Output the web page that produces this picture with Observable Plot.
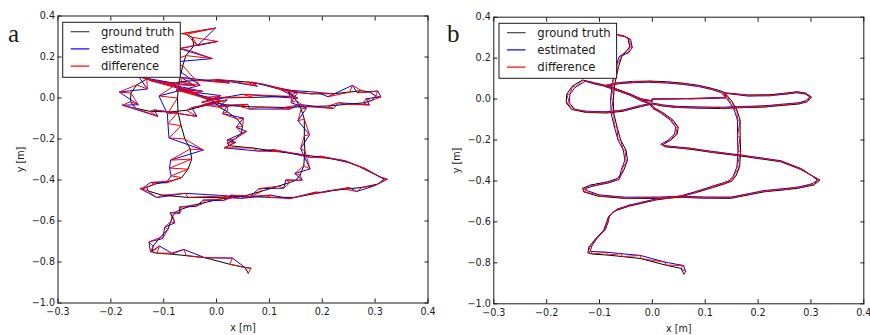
<!DOCTYPE html>
<html><head><meta charset="utf-8">
<script src="https://cdn.jsdelivr.net/npm/d3@7"></script>
<script src="https://cdn.jsdelivr.net/npm/@observablehq/plot@0.6"></script>
<style>
body{margin:0;background:#fff;}
#wrap{position:relative;width:870px;height:335px;overflow:hidden;background:#fff;}
.panel{position:absolute;top:0;width:435px;height:335px;}
#overlay{position:absolute;left:0;top:0;pointer-events:none;}
</style></head>
<body><div id="wrap"><div class="panel" id="pa" style="left:0"></div><div class="panel" id="pb" style="left:435px"></div></div>
<script>
// ground-truth trajectory (metres)
const gtX = [0.060,0.054,0.025,-0.022,-0.057,-0.085,-0.113,-0.122,-0.120,-0.107,
-0.092,-0.087,-0.083,-0.076,-0.066,-0.044,-0.022,0.006,0.032,0.054,
0.086,0.117,0.139,0.150,0.158,0.165,0.167,0.166,0.166,0.160,
0.151,0.142,0.134,0.113,0.088,0.057,0.025,-0.006,-0.038,-0.066,
-0.088,-0.066,-0.041,-0.022,-0.003,0.000,0.069,0.139,0.136,0.180,
0.221,0.252,0.274,0.290,0.301,0.293,0.277,0.246,0.211,0.170,
0.129,0.082,0.044,0.019,0.000,-0.022,-0.057,-0.088,-0.126,-0.153,
-0.163,-0.162,-0.151,-0.132,-0.110,-0.088,-0.066,-0.041,-0.022,-0.006,
0.006,0.021,0.039,0.049,0.047,0.035,0.021,0.024,0.069,0.117,
0.167,0.205,0.243,0.281,0.303,0.317,0.305,0.275,0.243,0.211,
0.180,0.148,0.095,0.054,0.010,-0.054,-0.103,-0.130,-0.132,-0.117,
-0.085,-0.066,-0.054,-0.047,-0.050,-0.060,-0.067,-0.073,-0.074,-0.071,
-0.064,-0.058,-0.050,-0.043,-0.046,-0.057,-0.066];
const gtY = [-0.855,-0.827,-0.811,-0.779,-0.769,-0.762,-0.757,-0.751,-0.722,-0.681,
-0.640,-0.604,-0.575,-0.555,-0.542,-0.523,-0.510,-0.493,-0.484,-0.477,
-0.454,-0.430,-0.412,-0.401,-0.376,-0.331,-0.257,-0.184,-0.103,-0.054,
-0.013,0.015,0.036,0.052,0.067,0.078,0.085,0.088,0.086,0.080,
0.067,0.047,0.023,0.002,-0.007,0.000,0.003,0.008,0.031,0.020,
0.021,0.029,0.036,0.029,0.010,-0.013,-0.024,-0.031,-0.039,-0.042,
-0.046,-0.044,-0.041,-0.034,-0.024,-0.037,-0.060,-0.068,-0.065,-0.050,
-0.018,0.024,0.064,0.093,0.080,0.067,0.047,0.023,-0.002,-0.018,
-0.046,-0.068,-0.103,-0.137,-0.171,-0.200,-0.221,-0.233,-0.244,-0.262,
-0.278,-0.292,-0.306,-0.344,-0.376,-0.396,-0.420,-0.436,-0.445,-0.453,
-0.469,-0.485,-0.484,-0.480,-0.485,-0.485,-0.474,-0.453,-0.436,-0.420,
-0.404,-0.388,-0.347,-0.298,-0.249,-0.200,-0.135,-0.070,0.000,0.077,
0.158,0.207,0.231,0.256,0.296,0.311,0.314];
// estimated minus ground truth, panel a (millimetres)
const estOffAX = [5,0,5,0,-5,0,5,-3,-8,5,
-6,8,-5,6,-4,5,-3,6,-5,8,
-6,10,-8,12,-10,12,-8,10,-12,10,
-10,12,-10,15,-20,20,-25,30,-30,25,
-40,30,-35,30,-25,20,-20,15,-15,10,
-10,5,-8,15,10,-10,12,-15,10,-12,
10,-20,15,-15,20,-25,20,-30,15,-25,
15,-22,20,-15,35,-30,40,-35,30,-20,
15,-10,12,-12,10,-15,15,-10,10,-10,
10,-8,8,-10,5,6,-8,-10,8,-10,
8,-10,8,-8,10,-5,-10,-15,-10,-8,
-10,-20,-35,-40,25,-30,-25,-20,-35,40,
-30,50,-20,45,10,55,25];
const estOffAY = [25,0,30,0,30,5,35,0,20,-5,
10,-5,15,-8,10,-6,12,-8,10,-8,
12,-10,12,0,8,-15,10,5,-8,5,
-10,15,10,-15,10,-20,5,-15,15,-20,
20,-25,15,10,-15,5,15,-10,10,8,
-15,33,-10,5,-5,10,-10,8,-12,10,
-8,-10,10,-10,15,-10,-30,10,-25,15,
-15,5,-20,10,-10,15,-15,20,-10,-15,
10,-8,5,-5,8,-5,5,-10,-15,10,
-12,8,-10,8,-8,0,-10,-20,8,-8,
10,-6,10,-10,8,20,-12,12,-8,8,
-10,8,5,-5,-5,5,10,-8,10,-15,
15,-15,10,20,-40,30,10];
// estimated minus ground truth, panel b (millimetres)
const estOffBX = [3,5,0,0,-2,-2,-3,5,5,3,
3,3,2,2,0,0,0,0,0,-2,
-3,-3,-5,-5,-5,-5,-5,-5,-5,-5,
-5,-5,-3,0,0,0,0,0,0,0,
0,3,3,3,3,0,0,0,3,0,
0,0,0,0,-3,-3,0,0,0,0,
0,0,0,0,0,0,0,0,0,6,
6,6,5,5,0,0,0,0,0,0,
-5,-5,-5,-5,-5,-5,-5,0,0,0,
0,0,0,0,-3,-5,-3,0,0,0,
0,0,0,0,0,0,3,6,6,5,
3,3,-5,-5,-5,-5,-5,-5,-5,-5,
-5,-5,5,5,5,5,5];
const estOffBY = [12,14,14,15,14,14,13,9,3,3,
2,0,3,3,5,5,5,5,3,3,
3,5,3,2,0,0,0,0,0,0,
-2,-3,-5,-6,-6,-6,-6,-6,-6,-6,
-7,-6,-6,-6,-5,0,-2,-3,-3,-5,
-5,-5,-5,-5,0,5,6,6,6,6,
6,6,6,6,5,6,6,6,6,0,
0,0,-6,-6,-6,-6,-6,-6,-6,-5,
0,0,0,0,0,0,0,5,5,5,
5,5,5,5,5,0,6,6,6,6,
6,6,6,6,6,6,6,6,0,-5,
-5,-5,0,0,0,0,0,0,0,0,
0,0,-5,-5,-5,-5,-5];

const xTicks = [-0.3,-0.2,-0.1,0.0,0.1,0.2,0.3,0.4];
const yTicks = [-1.0,-0.8,-0.6,-0.4,-0.2,0.0,0.2,0.4];
const legendLabels = ["ground truth","estimated","difference"];
const seriesColors = ["#000000","#0000ff","#ff0000"];
const panelTags = ["a","b"];

function build(dx, dy) {
  const gt = gtX.map((x, i) => ({x, y: gtY[i]}));
  const est = gtX.map((x, i) => ({x: x + dx[i] / 1000, y: gtY[i] + dy[i] / 1000}));
  const diff = [];
  gt.forEach((g, i) => { diff.push(g); diff.push(est[i]); });
  return {gt, est, diff};
}

function chart(d, m) {
  const fmt = d3.format(".1f");
  return Plot.plot({
    width: 435, height: 335,
    marginLeft: m.l, marginRight: m.r, marginTop: m.t, marginBottom: m.b,
    x: {domain: [-0.3, 0.4]},
    y: {domain: [-1.0, 0.4]},
    style: {fontFamily: "DejaVu Sans", fontSize: "9.6px", color: "#1a1a1a", background: "transparent"},
    marks: [
      Plot.line(d.gt, {x: "x", y: "y", stroke: seriesColors[0], strokeWidth: 1}),
      Plot.line(d.est, {x: "x", y: "y", stroke: seriesColors[1], strokeWidth: 1}),
      Plot.line(d.diff, {x: "x", y: "y", stroke: seriesColors[2], strokeWidth: 1}),
      Plot.axisX({ticks: xTicks, anchor: "bottom", tickSize: -4, tickFormat: () => "", label: null}),
      Plot.axisX({ticks: xTicks, anchor: "top", tickSize: -4, tickFormat: () => "", label: null}),
      Plot.axisY({ticks: yTicks, anchor: "left", tickSize: -4, tickFormat: () => "", label: null}),
      Plot.axisY({ticks: yTicks, anchor: "right", tickSize: -4, tickFormat: () => "", label: null}),
      Plot.axisX({ticks: xTicks, anchor: "bottom", tickSize: 0, tickPadding: 5.5, tickFormat: fmt, label: "x [m]", labelAnchor: "center", labelOffset: 28, labelArrow: "none"}),
      Plot.axisY({ticks: yTicks, anchor: "left", tickSize: 0, tickPadding: 3, tickFormat: fmt, label: "y [m]", labelAnchor: "center", labelOffset: 41, labelArrow: "none"}),
      Plot.frame({stroke: "#1a1a1a"})
    ]
  });
}

document.getElementById("pa").appendChild(chart(build(estOffAX, estOffAY), {l: 57.5, r: 7.5, t: 15.5, b: 32.5}));
document.getElementById("pb").appendChild(chart(build(estOffBX, estOffBY), {l: 58.3, r: 6.7, t: 16.7, b: 31.7}));

// overlay: panel tags and legends
const ns = "http://www.w3.org/2000/svg";
const ov = document.createElementNS(ns, "svg");
ov.setAttribute("id", "overlay"); ov.setAttribute("width", 870); ov.setAttribute("height", 335);
function el(name, attrs, text) {
  const e = document.createElementNS(ns, name);
  for (const k in attrs) e.setAttribute(k, attrs[k]);
  if (text != null) e.textContent = text;
  ov.appendChild(e); return e;
}
const tagPos = [[8, 41.7], [447, 41.7]];
const legPos = [[62.7, 22.3], [499, 23.3]];
panelTags.forEach((t, p) => {
  el("text", {x: tagPos[p][0], y: tagPos[p][1], "font-family": "Liberation Serif, serif", "font-size": 25, fill: "#1a1a1a"}, t);
  const [lx, ly] = legPos[p];
  el("rect", {x: lx, y: ly, width: 117.6, height: 55, fill: "#fff", stroke: "#1a1a1a", "stroke-width": 1});
  legendLabels.forEach((lab, i) => {
    const cy = ly + 9.4 + i * 17.2;
    el("line", {x1: lx + 8, x2: lx + 26.6, y1: cy, y2: cy, stroke: i === 0 ? "#444" : seriesColors[i], "stroke-width": 1.2});
    el("text", {x: lx + 38.3, y: cy + 4.2, "font-family": "DejaVu Sans, sans-serif", "font-size": 11.6, fill: "#1a1a1a"}, lab);
  });
});
document.getElementById("wrap").appendChild(ov);
</script></body></html>
